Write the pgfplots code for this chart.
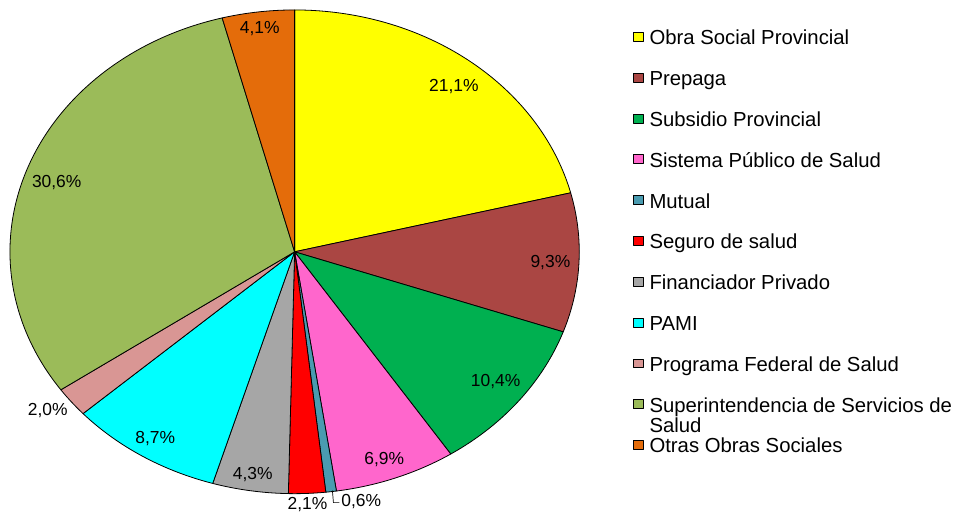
\documentclass[border=0pt]{standalone}
\usepackage{pgfplots}
\pgfplotsset{compat=1.18}
\usepackage{pgfplotstable}
\usepackage{fontspec}
\setmainfont{Liberation Sans}
\definecolor{c1}{HTML}{FFFF00}
\definecolor{c2}{HTML}{AA4643}
\definecolor{c3}{HTML}{00B050}
\definecolor{c4}{HTML}{FF66CC}
\definecolor{c5}{HTML}{4A9BB0}
\definecolor{c6}{HTML}{FF0000}
\definecolor{c7}{HTML}{A6A6A6}
\definecolor{c8}{HTML}{00FFFF}
\definecolor{c9}{HTML}{D99694}
\definecolor{c10}{HTML}{9BBB59}
\definecolor{c11}{HTML}{E46C0A}
\pgfplotstableread{
value col
21.1 c1
9.3 c2
10.4 c3
6.9 c4
0.6 c5
2.1 c6
4.3 c7
8.7 c8
2.0 c9
30.6 c10
4.1 c11
}\piedata
\pgfplotstableread{
x y label
456 87 {21,1\%}
553 264 {9,3\%}
498 383 {10,4\%}
386 462 {6,9\%}
363 504 {0,6\%}
309 507 {2,1\%}
254 477 {4,3\%}
156 441 {8,7\%}
48 412 {2,0\%}
57 183 {30,6\%}
261 29 {4,1\%}
}\labeldata
\newcommand\lblfont{\fontsize{17.5bp}{20bp}\selectfont}
\begin{document}
\begin{tikzpicture}
\begin{axis}[
  scale only axis, width=958bp, height=517bp,
  xmin=0, xmax=958, ymin=0, ymax=517,
  hide axis, clip=false,
  legend image code/.code={\draw[#1,draw=black,line width=0.6bp] (0bp,-2bp) rectangle (10bp,7bp);},
  legend cell align=left,
  legend style={at={(axis cs:636,487)}, anchor=north west, draw=none, fill=none,
    inner sep=0pt, outer sep=0pt, row sep=22bp, column sep=0pt,
    font=\fontsize{20.4bp}{24bp}\selectfont,
    nodes={inner xsep=6bp, inner ysep=0pt, text height=15bp, text depth=4bp}},
  legend entries={Obra Social Provincial, Prepaga, Subsidio Provincial,
    Sistema Público de Salud, Mutual, Seguro de salud, Financiador Privado,
    PAMI, Programa Federal de Salud,
    {\smash{\begin{tabular}[t]{@{}l@{}}Superintendencia de Servicios de\\[-3bp]Salud\end{tabular}}},
    Otras Obras Sociales},
]
\path (axis cs:0,0) rectangle (axis cs:958,517);
\pgfplotstablegetrowsof{\piedata}
\pgfmathtruncatemacro\nrows{\pgfplotsretval-1}
\def\total{0}
\pgfplotsforeachungrouped \i in {0,...,\nrows}{%
  \pgfplotstablegetelem{\i}{value}\of\piedata
  \pgfmathsetmacro\total{\total+\pgfplotsretval}%
}
\def\acc{0}
\pgfplotsforeachungrouped \i in {0,...,\nrows}{%
  \pgfplotstablegetelem{\i}{value}\of\piedata
  \let\v\pgfplotsretval
  \pgfplotstablegetelem{\i}{col}\of\piedata
  \let\col\pgfplotsretval
  \pgfmathsetmacro\aStart{90-(\acc/\total)*360}%
  \pgfmathsetmacro\acc{\acc+\v}%
  \pgfmathsetmacro\aEnd{90-(\acc/\total)*360}%
  \edef\cmd{\noexpand\addplot[fill=\col, draw=black, line width=0.8bp, line join=round,
     domain=\aEnd:\aStart, samples=150]
     ({296+286*cos(x)},{264+243*sin(x)}) -- (axis cs:296,264) -- cycle;}%
  \cmd
}
\draw[black, line width=0.7bp] (axis cs:334,24) -- (axis cs:335,12) -- (axis cs:341,12);
\addplot[only marks, mark=none, nodes near coords, point meta=explicit symbolic,
  nodes near coords style={anchor=center, font=\lblfont, text=black}, forget plot]
  table[x=x, y expr=517-\thisrow{y}, meta=label]{\labeldata};
\end{axis}
\end{tikzpicture}
\end{document}
